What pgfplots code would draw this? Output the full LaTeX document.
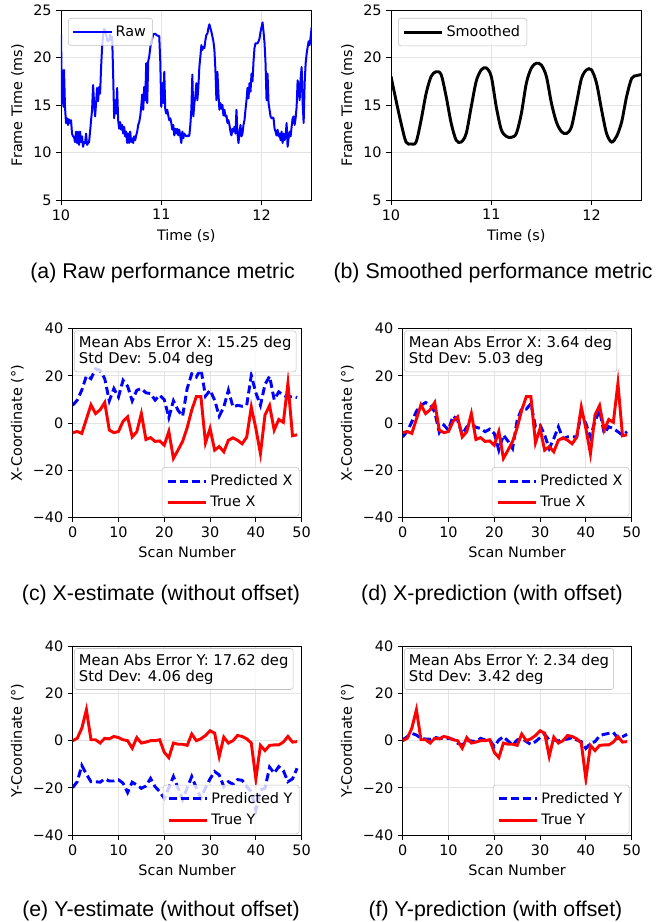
\documentclass[border=0pt]{standalone}
\usepackage{fontspec}
\setmainfont{DejaVu Sans}
\newfontfamily\capfont{Liberation Sans}
\usepackage{pgfplots}
\pgfplotsset{compat=1.18}

\newcommand{\axfont}{\fontsize{10.8}{13}\selectfont}
\newcommand{\boxfont}{\fontsize{11.1}{12}\selectfont}
\newcommand{\capsize}{\capfont\fontsize{16}{19}\selectfont}

\tikzset{
  infobox/.style={draw=gray!50, rounded corners=2pt, fill=white,
    fill opacity=0.8, text opacity=1, anchor=north west, align=left,
    font=\boxfont, inner xsep=3.5pt, inner ysep=4pt},
}

\pgfplotsset{
  panel/.style={
    scale only axis, anchor=south west,
    tick align=outside, tick pos=left, major tick length=3.5pt,
    grid=major, grid style={gray!22, line width=0.6pt},
    axis line style={line width=0.6pt},
    every tick/.style={black, line width=0.6pt},
    tick label style={font=\axfont},
    label style={font=\axfont},
    /pgf/number format/assume math mode=true,
    legend cell align=left,
    legend style={draw=gray!50, rounded corners=2pt, fill=white,
      fill opacity=0.8, text opacity=1, font=\axfont, inner xsep=3pt,
      inner ysep=3.5pt, row sep=2.5pt},
    legend image code/.code={\draw[##1] (0pt,0pt) -- (23pt,0pt);
      \path (0pt,0pt) -- (29pt,0pt);},
  },
  frame/.style={panel, width=188pt, height=142.5pt,
    xmin=10, xmax=12.5, ymin=5, ymax=25, xtick={10,11,12},
    ytick={5,10,15,20,25}, xlabel={Time (s)}, ylabel={Frame Time (ms)},
    legend style={at={(axis description cs:0.028,0.958)}, anchor=north west}},
  scan/.style={panel, width=171.75pt, height=141.5pt,
    xmin=0, xmax=50, ymin=-40, ymax=40, xtick={0,10,20,30,40,50},
    ytick={-40,-20,0,20,40}, yticklabels={−40,−20,0,20,40},
    xlabel={Scan Number},
    legend style={at={(axis description cs:0.99,0.005)}, anchor=south east}},
  pred/.style={blue, line width=2.2pt, dash pattern=on 6pt off 3pt},
  true/.style={red, line width=2.2pt},
}

\pgfplotstableread{
t v
10.00 22.4
10.01 15.2
10.02 18.5
10.025 14.8
10.03 18.7
10.04 14.8
10.05 13.1
10.06 13.6
10.07 12.9
10.08 13.5
10.09 13.1
10.10 13.4
10.11 12.0
10.12 11.7
10.13 11.6
10.14 11.1
10.15 12.2
10.16 11.0
10.17 12.2
10.18 10.8
10.19 12.2
10.20 11.1
10.21 11.7
10.22 10.6
10.23 11.1
10.24 11.0
10.25 12.0
10.26 10.8
10.27 11.0
10.28 11.1
10.29 12.2
10.30 13.4
10.31 14.5
10.32 17.1
10.33 15.2
10.34 13.8
10.35 15.2
10.36 16.8
10.37 15.4
10.38 16.9
10.39 16.2
10.40 19.0
10.41 21.1
10.42 22.4
10.43 23.0
10.44 22.9
10.45 22.4
10.46 21.8
10.47 21.7
10.48 21.9
10.49 22.4
10.50 21.8
10.51 22.2
10.52 18.3
10.53 13.6
10.54 15.5
10.55 14.1
10.56 16.8
10.57 13.4
10.58 12.5
10.59 13.2
10.60 12.4
10.61 12.9
10.62 12.0
10.63 12.7
10.64 11.7
10.65 12.2
10.66 11.0
10.67 12.0
10.68 11.0
10.69 12.2
10.70 11.1
10.71 11.5
10.72 11.0
10.73 11.7
10.74 11.3
10.75 11.8
10.76 12.2
10.77 12.9
10.78 13.2
10.79 13.8
10.80 14.8
10.81 16.1
10.82 14.5
10.83 16.9
10.84 15.5
10.85 19.4
10.86 15.2
10.87 19.6
10.88 20.1
10.89 21.0
10.90 21.7
10.91 22.0
10.92 22.4
10.93 22.5
10.94 22.5
10.95 22.4
10.96 22.3
10.97 22.3
10.98 22.2
10.99 19.6
11.00 14.8
11.01 17.3
11.02 15.2
11.03 18.5
11.04 14.5
11.05 14.1
11.06 14.5
11.07 13.9
11.08 13.4
11.09 13.6
11.10 13.1
11.11 12.4
11.12 12.9
11.13 11.8
11.14 12.5
11.15 12.0
11.16 12.5
11.17 11.8
11.18 12.4
11.19 11.7
11.20 11.0
11.21 12.2
11.22 11.5
11.23 12.0
11.24 11.8
11.25 11.7
11.26 11.8
11.27 11.7
11.28 11.8
11.29 12.9
11.30 14.5
11.31 18.2
11.32 13.8
11.33 15.2
11.34 15.9
11.35 17.3
11.36 15.5
11.37 16.9
11.38 19.0
11.39 20.1
11.40 21.3
11.41 20.8
11.42 21.1
11.43 21.0
11.44 21.8
11.45 22.4
11.46 22.5
11.47 23.1
11.48 23.5
11.49 23.1
11.50 22.7
11.51 22.2
11.52 21.7
11.53 20.8
11.54 18.7
11.55 15.5
11.56 18.5
11.57 16.2
11.58 14.5
11.59 15.2
11.60 14.6
11.61 15.0
11.62 13.9
11.63 14.5
11.64 13.8
11.65 13.9
11.66 13.1
11.67 13.4
11.68 12.9
11.69 12.2
11.70 11.8
11.71 12.5
11.72 12.2
11.73 12.7
11.74 12.0
11.75 14.5
11.76 12.0
11.77 11.0
11.78 12.0
11.79 12.9
11.80 11.7
11.81 12.0
11.82 12.9
11.83 13.4
11.84 14.5
11.85 15.5
11.86 16.8
11.87 15.7
11.88 17.3
11.89 16.4
11.90 18.3
11.91 17.5
11.92 19.6
11.93 21.0
11.94 21.5
11.95 21.5
11.96 21.5
11.97 21.7
11.98 22.0
11.99 22.7
12.00 23.2
12.01 23.7
12.02 22.7
12.03 21.5
12.04 19.4
12.05 15.5
12.06 18.3
12.07 15.2
12.08 14.5
12.09 13.8
12.10 13.6
12.11 13.7
12.12 13.6
12.13 12.5
12.14 12.2
12.15 11.8
12.16 12.4
12.17 11.7
12.18 12.0
12.19 11.3
12.20 12.2
12.21 11.0
12.22 12.0
12.23 11.3
12.24 11.7
12.25 13.1
12.26 10.6
12.27 11.5
12.28 12.2
12.29 11.7
12.30 12.7
12.31 13.6
12.32 13.8
12.33 12.9
12.34 13.6
12.35 14.8
12.36 17.6
12.37 16.9
12.38 15.5
12.39 17.8
12.40 19.0
12.41 15.2
12.42 13.1
12.43 17.3
12.44 19.4
12.45 20.4
12.46 21.1
12.47 21.7
12.48 21.3
12.49 22.2
12.50 23.2
}\rawdata

\pgfplotstableread{
t v
10.00 18.0
10.05 15.5
10.10 13.1
10.15 11.1
10.20 10.9
10.25 11.1
10.30 13.4
10.35 16.2
10.40 18.0
10.45 18.5
10.50 18.2
10.55 15.9
10.60 13.1
10.65 11.3
10.70 11.1
10.75 12.0
10.80 14.8
10.85 17.5
10.90 18.7
10.95 18.9
11.00 18.0
11.05 14.8
11.10 12.4
11.15 11.7
11.20 11.6
11.25 12.0
11.30 14.1
11.35 17.3
11.40 18.9
11.45 19.4
11.50 19.2
11.55 18.0
11.60 15.2
11.65 13.2
11.70 12.2
11.75 12.0
11.80 12.7
11.85 15.2
11.90 17.8
11.95 18.7
12.00 18.7
12.05 17.3
12.10 14.5
12.15 12.0
12.20 11.1
12.25 11.7
12.30 13.2
12.35 15.9
12.40 17.8
12.45 18.1
12.50 18.2
}\smoothdata

% scan, true X, predicted X (no offset), predicted X (with offset)
\pgfplotstableread{
s tx pxa pxb
0 -4.1 7.5 -5.9
1 -3.6 9.7 -3.5
2 -4.4 14.0 0.5
3 1.7 20.0 5.0
4 7.7 18.8 7.5
5 4.0 23.0 8.7
6 5.6 22.3 7.8
7 8.7 18.8 4.7
8 -3.0 9.4 -4.0
9 -4.1 14.6 -0.9
10 -3.6 11.0 -3.0
11 0.7 18.1 3.0
12 2.6 15.6 1.2
13 -5.9 9.4 -4.9
14 -3.7 13.9 -1.6
15 4.0 14.6 -0.6
16 -7.0 12.8 -1.8
17 -6.2 12.5 -2.3
18 -7.8 9.7 -3.7
19 -7.6 11.8 -2.6
20 -9.4 9.9 -4.4
21 -3.6 2.3 -11.5
22 -15.0 9.4 -5.1
23 -11.5 5.4 -7.7
24 -7.8 2.9 -10.8
25 -2.0 14.6 1.2
26 5.5 20.9 6.1
27 11.2 19.5 5.9
28 11.2 23.0 8.2
29 -8.4 11.4 -1.6
30 -2.3 13.9 -0.9
31 -11.5 9.7 -5.1
32 -10.0 2.9 -10.8
33 -12.2 6.8 -6.6
34 -7.3 13.9 -1.6
35 -6.3 6.8 -6.6
36 -7.3 7.5 -5.9
37 -8.8 7.1 -5.9
38 -6.0 7.5 -5.9
39 6.8 20.2 4.0
40 -2.3 12.8 -0.2
41 -13.0 7.5 -5.9
42 3.5 16.4 0.8
43 7.4 19.8 5.4
44 -3.0 9.9 -4.4
45 1.5 13.2 -1.6
46 0.3 11.8 -2.3
47 16.8 10.8 -3.7
48 -5.4 11.4 -5.1
49 -5.0 10.8 -3.7
}\xdata

% scan, true Y, predicted Y (no offset), predicted Y (with offset)
\pgfplotstableread{
s ty pya pyb
0 0.0 -19.9 0.3
1 1.0 -17.4 1.7
2 5.3 -10.5 3.1
3 13.1 -14.2 2.4
4 0.4 -17.4 1.0
5 0.4 -17.4 0.7
6 -1.0 -17.6 0.6
7 1.0 -16.2 1.4
8 0.8 -17.1 1.0
9 1.8 -17.1 1.0
10 1.3 -16.6 1.0
11 0.4 -18.0 0.6
12 0.0 -22.0 -1.1
13 -3.2 -17.6 -1.8
14 1.3 -18.8 -0.1
15 -1.0 -20.2 -0.1
16 -0.6 -19.2 -0.4
17 0.0 -16.0 1.0
18 0.0 -19.5 0.3
19 0.4 -21.6 0.3
20 -4.9 -24.5 -2.5
21 -7.2 -20.0 0.3
22 -1.0 -15.2 1.7
23 -1.5 -20.0 -0.1
24 -1.5 -25.0 -1.8
25 -2.0 -20.0 0.3
26 2.8 -15.2 1.0
27 0.0 -20.0 -0.4
28 0.8 -24.4 -1.6
29 2.2 -20.0 -0.4
30 4.2 -16.2 1.3
31 3.2 -13.1 2.7
32 -6.7 -14.5 0.3
33 1.5 -19.5 0.3
34 -1.0 -17.4 -0.1
35 0.0 -18.5 0.3
36 2.2 -16.5 0.7
37 1.8 -16.8 1.3
38 0.8 -19.5 0.3
39 -1.0 -21.6 -0.4
40 -16.2 -29.4 -3.3
41 -2.0 -20.9 -1.1
42 -4.2 -20.2 -0.4
43 -2.0 -11.2 2.1
44 -1.8 -13.8 2.7
45 -1.8 -11.0 3.1
46 -0.6 -12.7 3.5
47 1.8 -17.4 1.0
48 -0.6 -16.2 1.7
49 -0.4 -11.7 2.7
}\ydata

\begin{document}
\begin{tikzpicture}
\useasboundingbox (0pt,0pt) rectangle (498.75pt,-691.5pt);

% (a) raw
\begin{axis}[frame, at={(45.75pt,-150pt)}]
\addplot[blue, line width=1.5pt, line join=round] table[x=t,y=v] {\rawdata};
\addlegendentry{Raw}
\end{axis}

% (b) smoothed
\begin{axis}[frame, at={(293.25pt,-150pt)}]
\addplot[black, line width=2.2pt, smooth] table[x=t,y=v] {\smoothdata};
\addlegendentry{Smoothed}
\end{axis}

% (c) X without offset
\begin{axis}[scan, at={(54.5pt,-388pt)}, ylabel={X-Coordinate (°)}]
\addplot[pred] table[x=s,y=pxa] {\xdata};
\addlegendentry{Predicted X}
\addplot[true] table[x=s,y=tx] {\xdata};
\addlegendentry{True X}
\node[infobox] at (rel axis cs:0.006,0.99) {Mean Abs Error X: 15.25 deg\\Std Dev: 5.04 deg};
\end{axis}

% (d) X with offset
\begin{axis}[scan, at={(302pt,-388pt)}, ylabel={X-Coordinate (°)}]
\addplot[pred] table[x=s,y=pxb] {\xdata};
\addlegendentry{Predicted X}
\addplot[true] table[x=s,y=tx] {\xdata};
\addlegendentry{True X}
\node[infobox] at (rel axis cs:0.006,0.99) {Mean Abs Error X: 3.64 deg\\Std Dev: 5.03 deg};
\end{axis}

% (e) Y without offset
\begin{axis}[scan, at={(54.5pt,-626.25pt)}, ylabel={Y-Coordinate (°)}]
\addplot[pred] table[x=s,y=pya] {\ydata};
\addlegendentry{Predicted Y}
\addplot[true] table[x=s,y=ty] {\ydata};
\addlegendentry{True Y}
\node[infobox] at (rel axis cs:0.006,0.99) {Mean Abs Error Y: 17.62 deg\\Std Dev: 4.06 deg};
\end{axis}

% (f) Y with offset
\begin{axis}[scan, at={(302pt,-626.25pt)}, ylabel={Y-Coordinate (°)}]
\addplot[pred] table[x=s,y=pyb] {\ydata};
\addlegendentry{Predicted Y}
\addplot[true] table[x=s,y=ty] {\ydata};
\addlegendentry{True Y}
\node[infobox] at (rel axis cs:0.006,0.99) {Mean Abs Error Y: 2.34 deg\\Std Dev: 3.42 deg};
\end{axis}

\node[font=\capsize] at (121.9pt,-204.5pt) {(a) Raw performance metric};
\node[font=\capsize] at (369.75pt,-204.5pt) {(b) Smoothed performance metric};
\node[font=\capsize] at (120.75pt,-446.5pt) {(c) X-estimate (without offset)};
\node[font=\capsize] at (369pt,-446.5pt) {(d) X-prediction (with offset)};
\node[font=\capsize] at (120.75pt,-683.5pt) {(e) Y-estimate (without offset)};
\node[font=\capsize] at (371.6pt,-683.5pt) {(f) Y-prediction (with offset)};
\end{tikzpicture}
\end{document}
